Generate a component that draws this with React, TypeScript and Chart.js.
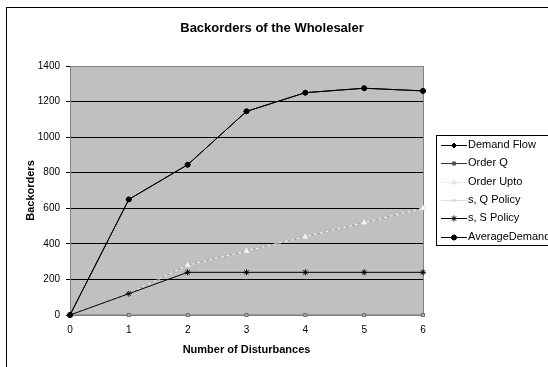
import { useEffect, useRef } from 'react';
import { Chart, registerables } from 'chart.js';
import { drawPoint } from 'chart.js/helpers';

Chart.register(...registerables);

// Number of disturbances on the x axis
const disturbances = ['0', '1', '2', '3', '4', '5', '6'];

// Backorders per policy
const demandFlow = [0, 650, 845, 1145, 1250, 1275, 1260];
const orderQ = [0, 0, 0, 0, 0, 0, 0];
const orderUpto = [0, 120, 280, 360, 440, 520, 600];
const sQPolicy = [0, 120, 280, 360, 440, 520, 600];
const sSPolicy = [0, 120, 240, 240, 240, 240, 240];
const averageDemand = [0, 650, 845, 1145, 1250, 1275, 1260];

const yMin = 0;
const yMax = 1400;
const yStep = 200;

const FONT = "'Liberation Sans', Arial, sans-serif";

const framePlugin = {
  id: 'frame',
  beforeDraw(chart: any) {
    const { ctx, chartArea: a, width, height } = chart;
    ctx.save();
    ctx.fillStyle = '#ffffff';
    ctx.fillRect(0, 0, width, height);
    ctx.strokeStyle = '#000000';
    ctx.lineWidth = 1;
    ctx.strokeRect(6.5, 7.5, width + 10, height + 10);
    ctx.fillStyle = '#c0c0c0';
    ctx.fillRect(a.left, a.top, a.right - a.left, a.bottom - a.top);
    ctx.restore();
  },
  beforeDatasetsDraw(chart: any) {
    const { ctx, chartArea: a } = chart;
    ctx.save();
    ctx.strokeStyle = '#808080';
    ctx.lineWidth = 1;
    ctx.strokeRect(a.left + 0.5, a.top + 0.5, a.right - a.left, a.bottom - a.top);
    ctx.restore();
  },
  afterDraw(chart: any) {
    const { ctx, chartArea: a } = chart;
    ctx.save();
    ctx.fillStyle = '#000000';
    ctx.textAlign = 'center';
    ctx.textBaseline = 'middle';
    ctx.font = `bold 13px ${FONT}`;
    ctx.fillText('Backorders of the Wholesaler', 272, 28);
    ctx.font = `bold 11px ${FONT}`;
    ctx.fillText('Number of Disturbances', (a.left + a.right) / 2, 350);
    ctx.save();
    ctx.translate(31, (a.top + a.bottom) / 2);
    ctx.rotate(-Math.PI / 2);
    ctx.fillText('Backorders', 0, 0);
    ctx.restore();

    // legend box with line + marker samples
    const boxX = 436.5;
    const boxY = 135.5;
    ctx.fillStyle = '#ffffff';
    ctx.fillRect(boxX, boxY, 200, 110);
    ctx.strokeStyle = '#000000';
    ctx.lineWidth = 1;
    ctx.strokeRect(boxX, boxY, 200, 110);
    ctx.font = `11px ${FONT}`;
    ctx.textAlign = 'left';
    chart.data.datasets.forEach((ds: any, i: number) => {
      const y = 145 + i * 18.3;
      ctx.strokeStyle = ds.legendLine || ds.borderColor;
      ctx.lineWidth = 1;
      ctx.setLineDash([]);
      ctx.beginPath();
      ctx.moveTo(441, Math.round(y) + 0.5);
      ctx.lineTo(467, Math.round(y) + 0.5);
      ctx.stroke();
      ctx.fillStyle = ds.legendMarker || ds.pointBackgroundColor;
      ctx.strokeStyle = ds.legendMarker || ds.pointBorderColor;
      drawPoint(
        ctx,
        { pointStyle: ds.pointStyle, radius: ds.pointRadius, borderWidth: 1, rotation: 0 },
        454,
        Math.round(y) + 0.5,
      );
      ctx.fillStyle = '#000000';
      ctx.fillText(ds.label, 468, y);
    });
    ctx.restore();
  },
};

export default function App() {
  const canvasRef = useRef<HTMLCanvasElement | null>(null);

  useEffect(() => {
    if (!canvasRef.current) return;
    const chart = new Chart(canvasRef.current, {
      type: 'line',
      data: {
        labels: disturbances,
        datasets: [
          {
            label: 'Demand Flow',
            data: demandFlow,
            borderColor: '#000000',
            pointBackgroundColor: '#000000',
            pointBorderColor: '#000000',
            pointStyle: 'rectRot',
            pointRadius: 2.5,
            order: 1,
          },
          {
            label: 'Order Q',
            data: orderQ,
            borderColor: '#7a7a7a',
            pointBackgroundColor: '#b4b4b4',
            pointBorderColor: '#6a6a6a',
            pointStyle: 'rect',
            pointRadius: 2.2,
            legendLine: '#333333',
            legendMarker: '#555555',
            order: 5,
          },
          {
            label: 'Order Upto',
            data: orderUpto,
            borderColor: '#ffffff',
            borderDash: [3, 3],
            pointBackgroundColor: '#ffffff',
            pointBorderColor: '#e8e8e8',
            pointStyle: 'triangle',
            pointRadius: 3,
            legendLine: '#eeeeee',
            legendMarker: '#e6e6e6',
            order: 3,
          },
          {
            label: 's, Q Policy',
            data: sQPolicy,
            borderColor: '#a0a0a0',
            pointBackgroundColor: '#a0a0a0',
            pointBorderColor: '#a0a0a0',
            pointStyle: 'crossRot',
            pointRadius: 2.5,
            legendLine: '#dddddd',
            legendMarker: '#cccccc',
            order: 4,
          },
          {
            label: 's, S Policy',
            data: sSPolicy,
            borderColor: '#000000',
            pointBackgroundColor: '#000000',
            pointBorderColor: '#000000',
            pointStyle: 'star',
            pointRadius: 3,
            order: 2,
          },
          {
            label: 'AverageDemand',
            data: averageDemand,
            borderColor: '#000000',
            pointBackgroundColor: '#000000',
            pointBorderColor: '#000000',
            pointStyle: 'circle',
            pointRadius: 2.5,
            order: 0,
          },
        ].map((ds: any) => ({
          borderWidth: 1,
          pointBorderWidth: 1,
          pointHoverRadius: ds.pointRadius,
          tension: 0,
          clip: false,
          fill: false,
          ...ds,
        })),
      },
      options: {
        responsive: false,
        animation: false,
        devicePixelRatio: 1,
        layout: { padding: { left: 6, top: 66, right: 125, bottom: 0 } },
        plugins: {
          legend: { display: false },
          title: { display: false },
          tooltip: { enabled: false },
        },
        events: [],
        scales: {
          x: {
            type: 'category',
            offset: false,
            afterFit(scale: any) {
              scale.height = 52;
            },
            grid: { drawOnChartArea: false, drawTicks: false },
            border: { color: '#808080', width: 1 },
            ticks: {
              color: '#000000',
              font: { family: FONT, size: 10 },
              padding: 9,
              maxRotation: 0,
              autoSkip: false,
            },
          },
          y: {
            min: yMin,
            max: yMax,
            afterFit(scale: any) {
              scale.width = 64;
            },
            grid: {
              color: (c: any) =>
                c.tick && (c.tick.value === yMin || c.tick.value === yMax) ? 'rgba(0,0,0,0)' : '#000000',
              tickColor: '#000000',
              tickLength: 4,
              lineWidth: 1,
            },
            border: { color: '#808080', width: 1 },
            ticks: {
              stepSize: yStep,
              color: '#000000',
              font: { family: FONT, size: 10 },
              padding: 6,
              callback: (v: any) => String(v),
            },
          },
        },
      },
      plugins: [framePlugin],
    });
    return () => chart.destroy();
  }, []);

  return (
    <div style={{ position: 'absolute', left: 0, top: 0, width: 548, height: 367 }}>
      <canvas ref={canvasRef} width={548} height={367} style={{ display: 'block' }} />
    </div>
  );
}
